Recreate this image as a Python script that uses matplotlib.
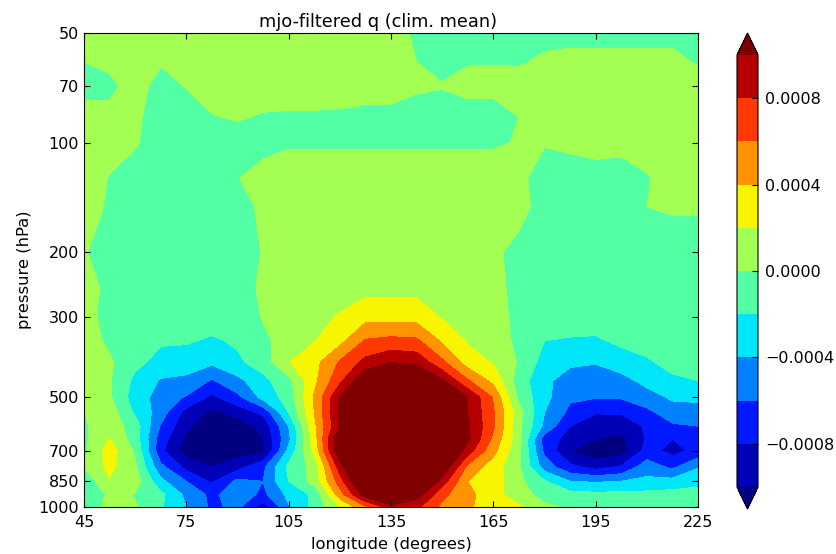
import numpy as np
import matplotlib
matplotlib.use('Agg')
import matplotlib.pyplot as plt
from matplotlib.ticker import FuncFormatter, NullLocator, FixedLocator

lon = [45 + 7.5 * i for i in range(25)]
pressure = [50, 60, 70, 85, 100, 125, 150, 200, 250, 300, 350, 400, 450, 500, 550, 600, 650, 700, 775, 850, 925, 1000]
xtick_vals = [45, 75, 105, 135, 165, 195, 225]
ytick_vals = [50, 70, 100, 200, 300, 500, 700, 850, 1000]
levels = [-0.001, -0.0008, -0.0006, -0.0004, -0.0002, 0.0, 0.0002, 0.0004, 0.0006, 0.0008, 0.001]
cbar_ticks = [-0.0008, -0.0004, 0.0, 0.0004, 0.0008]

# q in units of 1e-4, one row per pressure level, one value per longitude
q_50 = [1, 1, 1, 1, 1, 1, 1, 1, 1, 1, 1, 1, .7, -.3, -.5, -.5, -.5, -.5, -.5, -.5, -.5, -.5, -.5, -.5, -.5]
q_60 = [0, .5, 1, .2, .8, 1, 1, 1, 1, 1, 1, 1, 1, 0, -.5, -.1, -.1, -.2, .3, .5, .5, .5, .5, .5, -.2]
q_70 = [-.8, -.6, 1, -.9, .1, .7, 1, 1, 1, 1, 1, 1, 1, .3, .1, .6, .6, 1, 1, 1, 1, 1, 1, 1, 1]
q_85 = [1, .8, .4, -1, -1, -.1, .2, -.2, -.3, -.3, -.4, -.7, -.8, -1, -1, -1, -1, 0, 1, 1, 1, 1, 1, 1, 1]
q_100 = [1, .7, .2, -1, -1, -1, -1, -.8, -.2, -.2, -.2, -.2, -.2, -.2, -.2, -.2, -.2, .1, .2, .4, .8, .6, 1, 1, 1]
q_125 = [1, -.1, -1, -1, -1, -1, -.1, 1, 1, 1, 1, 1, 1, 1, 1, 1, 1, .8, -1.5, -1, -1, -1, -.2, 1, 1]
q_150 = [1, -.3, -1, -1, -1, -1, -.6, .3, 1, 1, 1, 1, 1, 1, 1, 1, 1, .8, -1, -1, -1, -1, 0, .2, .2]
q_200 = [.1, -.6, -1, -1, -1, -1, -1, .1, 1, 1, 1, 1, 1, 1, 1, 1, .5, -.8, -1, -1, -1, -1, -1, -1, -1]
q_250 = [.8, -.5, -1, -1, -1, -1, -.5, .2, 1, .6, .8, 1.4, 1.4, 1.4, .9, .7, .5, -.5, -1, -1, -1, -1, -1, -1, -1]
q_300 = [.8, -.8, -1, -1, -1, -1, -1, .1, .8, 1.2, 2.2, 3.3, 3.3, 3.2, 1.8, 1, .6, -.4, -1, -1, -1, -1, -1, -1, -1]
q_350 = [1, -.4, -1, -1.8, -1.8, -2.3, -1.7, -.3, .6, 1.9, 3.4, 6.2, 6.6, 6.4, 3.7, 1.8, .9, -.4, -2, -2.2, -2.3, -1.6, -1.4, -1.2, -1]
q_400 = [1, .3, -1.5, -2.6, -3, -3.6, -2.4, -1, 1.9, 3.3, 6.2, 8.6, 9.9, 9.5, 6.4, 3, 1.8, -.2, -2.8, -3.6, -3.8, -3, -2.2, -1.5, -1.5]
q_450 = [1, .2, -2.5, -4.2, -4.5, -6.2, -4.6, -2.6, -.6, 3.5, 7.5, 12, 13, 13, 10.3, 6.2, 3.4, -1, -3.5, -5, -5.6, -4.7, -3.4, -2.3, -2]
q_500 = [.5, .3, -3, -4.8, -6.2, -8.5, -6.5, -3.4, -1.1, 4.2, 10, 14, 15, 15, 13, 10, 5.8, -.5, -3.4, -5.7, -5.9, -5.8, -4.9, -3.7, -3.5]
q_550 = [0, 1, -2.3, -5, -8.8, -10.5, -9.3, -7.5, -2, 4, 10.5, 15, 16, 16, 14, 10, 6.2, .8, -4, -6.5, -7.8, -7.8, -6.5, -5, -5]
q_600 = [-.3, 1.2, -1, -6.2, -9.5, -11.5, -11, -9.5, -4, 3.5, 10, 16, 17, 17, 15, 10.3, 6.3, .6, -4.5, -8, -9.7, -9.3, -7.7, -6.3, -6]
q_650 = [-.4, 2, -1, -7, -10.5, -12, -12, -10, -4.5, 3, 12, 17, 18, 18, 15, 10.5, 5.5, .7, -7, -8.7, -10, -10.5, -7.8, -8, -7]
q_700 = [-.5, 3, -.3, -7.5, -11, -12.5, -11, -10.5, -3.5, 2.5, 12, 17, 18, 18, 14, 9, 4.6, .5, -6.5, -10, -11.5, -11, -7.3, -8.6, -7.5]
q_775 = [.2, 2.5, .3, -5.5, -8.7, -10, -8.8, -6.5, -1.5, .7, 9, 16, 18, 17, 12, 5.5, 3, .3, -5, -7.5, -8.8, -7.8, -5, -6.5, -4.2]
q_850 = [-1.5, 1.8, 1, -3.5, -6, -8.3, -5.5, -6, -2, .8, 7, 14, 16, 15, 9, 4, 3, .5, -1.8, -4, -4.2, -4, -3.5, -3.3, -2.5]
q_925 = [-2.2, .4, -.1, -1.5, -4.5, -6.5, -4.8, -6.5, -3.5, -1.6, 5, 11, 15, 11, 6.5, 4.5, 2.9, .7, -.6, -1.2, -1.5, -1.4, -1.4, -1.2, -1.3]
q_1000 = [-1, .5, .2, -1.8, -4, -6.4, -5.5, -9, -4.2, -1.4, 2, 5.5, 9, 8.5, 5.5, 4.3, 3, 2.3, .3, -.2, -.6, -.6, -.6, -.7, -1]

q = np.array([q_50, q_60, q_70, q_85, q_100, q_125, q_150, q_200, q_250, q_300, q_350,
              q_400, q_450, q_500, q_550, q_600, q_650, q_700, q_775, q_850, q_925, q_1000]) * 1e-4

W, H = 836, 554
plt.rcParams['font.family'] = 'DejaVu Sans'
plt.rcParams['font.size'] = 11.5
fig = plt.figure(figsize=(W / 100, H / 100), dpi=100)
ax = fig.add_axes([84 / W, 1 - 507 / H, 614 / W, 474 / H])
cf = ax.contourf(lon, pressure, q, levels=levels, cmap='jet', extend='both')
ax.set_yscale('log')
ax.set_ylim(1000, 50)
ax.set_xlim(45, 225)
ax.yaxis.set_major_locator(FixedLocator(ytick_vals))
ax.yaxis.set_minor_locator(NullLocator())
ax.yaxis.set_major_formatter(FuncFormatter(lambda v, p: f'{v:.0f}'))
ax.set_xticks(xtick_vals)
ax.tick_params(which='both', direction='in', top=True, right=True, length=4, width=0.8, labelsize=11.5)
ax.tick_params(axis='x', pad=6)
ax.set_title('mjo-filtered q (clim. mean)', fontsize=12.8, pad=4, x=0.479)
ax.set_xlabel('longitude (degrees)', fontsize=11.8, labelpad=5)
ax.set_ylabel('pressure (hPa)', fontsize=11.8, labelpad=5)

cax = fig.add_axes([737 / W, 1 - 509 / H, 21 / W, 476 / H])
cb = fig.colorbar(cf, cax=cax, ticks=cbar_ticks, extendfrac=22 / 432,
                  format=FuncFormatter(lambda v, p: f'{v:.4f}'.replace('-', '\u2212')))
cb.ax.tick_params(direction='in', length=4, width=0.8, labelsize=11.5, pad=5)
cb.ax.minorticks_off()
fig.savefig('out.png', dpi=100)
